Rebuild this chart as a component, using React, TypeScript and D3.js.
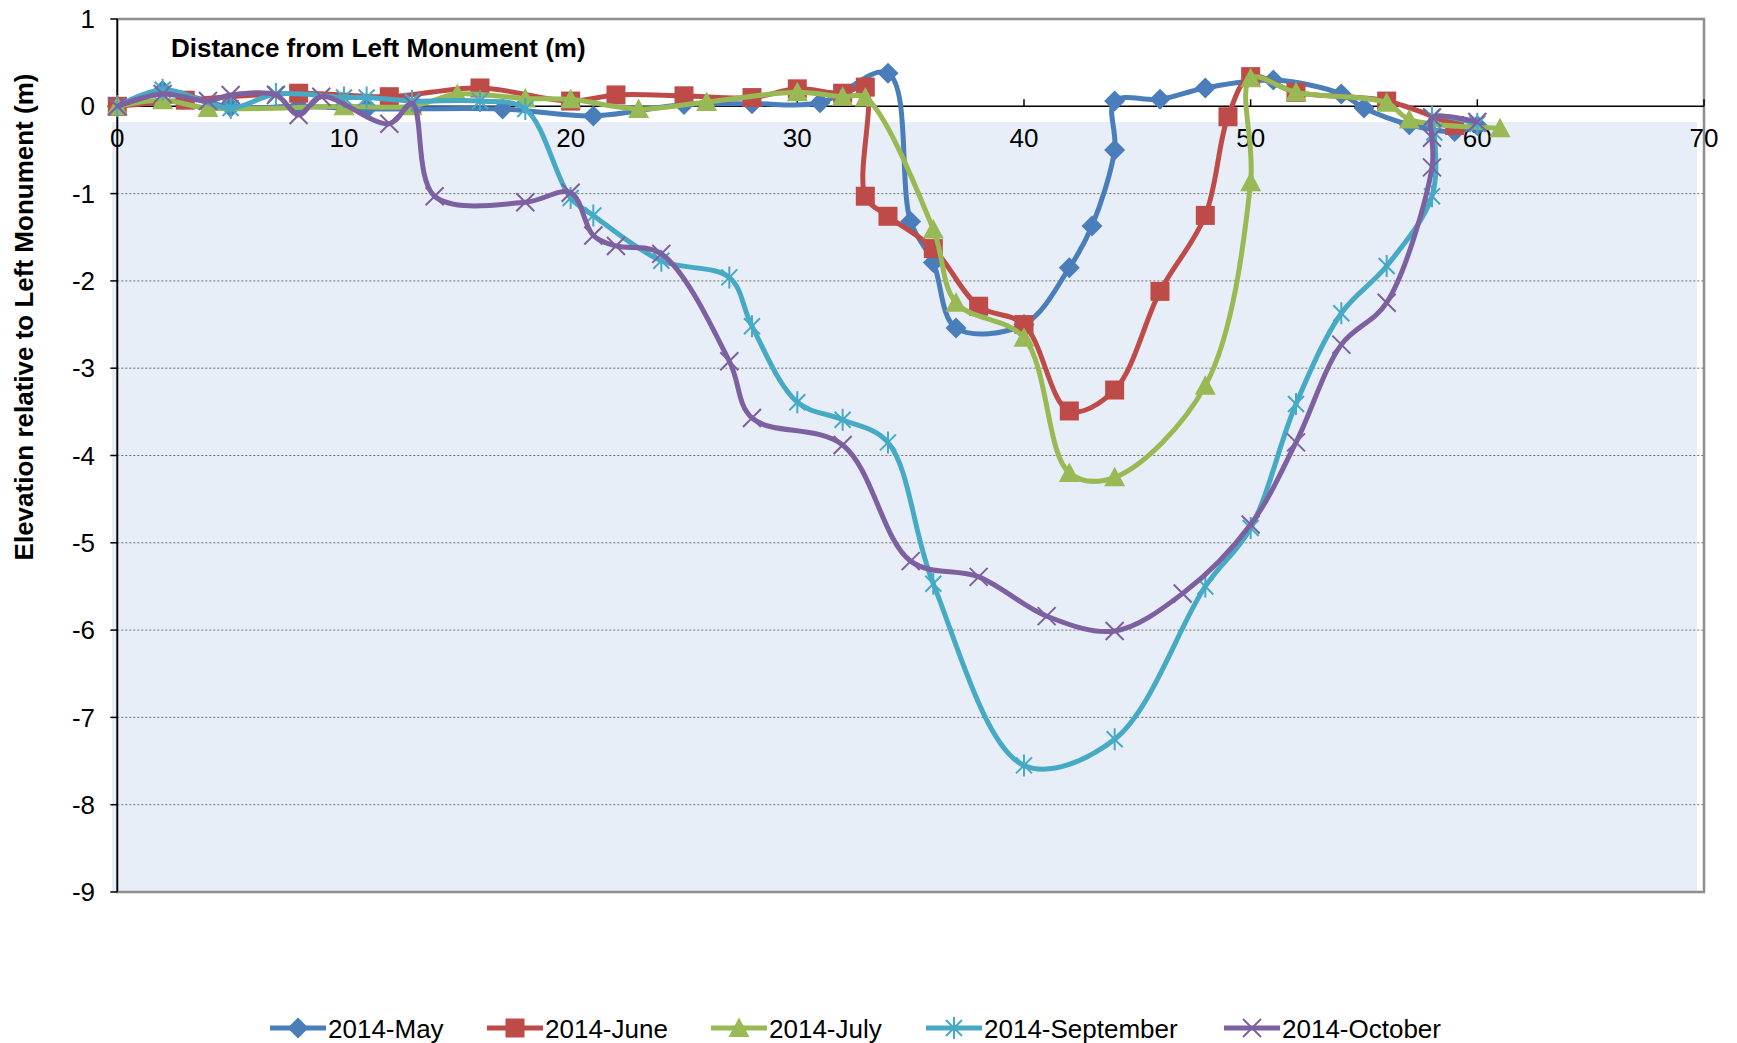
import React from "react";
import * as d3 from "d3";

// survey points: [distance from left monument (m), elevation (m)]
const mayData = [
  [0, 0], [2, 0.18], [5, -0.01], [8, 0.0], [11, -0.03], [17, -0.03], [21, -0.11],
  [25, 0.02], [28, 0.03], [31, 0.04], [34, 0.38], [35, -1.32], [36, -1.79], [37, -2.54],
  [40, -2.5], [42, -1.85], [43, -1.37], [44, -0.5], [44, 0.06], [46, 0.08], [48, 0.21],
  [51, 0.3], [54, 0.14], [55, -0.02], [57, -0.21], [59, -0.29], [60, -0.22],
];
const juneData = [
  [0, 0], [3, 0.07], [8, 0.15], [12, 0.11], [16, 0.21], [20, 0.06], [22, 0.13], [25, 0.12],
  [28, 0.1], [30, 0.2], [32, 0.15], [33, 0.22], [33, -1.03], [34, -1.26], [36, -1.63],
  [38, -2.29], [40, -2.5], [42, -3.49], [44, -3.25], [46, -2.12], [48, -1.25], [49, -0.12],
  [50, 0.34], [52, 0.16], [56, 0.06], [59, -0.22],
];
const julyData = [
  [0, 0], [2, 0.07], [4, -0.02], [10, 0.0], [13, 0.0], [15, 0.14], [18, 0.09], [20, 0.08],
  [23, -0.03], [26, 0.05], [30, 0.16], [32, 0.11], [33, 0.1], [36, -1.41], [37, -2.25],
  [40, -2.65], [42, -4.2], [44, -4.25], [48, -3.2], [50, -0.87], [50, 0.32], [52, 0.16],
  [56, 0.04], [57, -0.15], [61, -0.25],
];
const septemberData = [
  [0, 0], [2, 0.19], [5, -0.02], [7, 0.14], [10, 0.1], [11, 0.1], [13, 0.06], [16, 0.06],
  [18, -0.03], [20, -1.05], [21, -1.25], [24, -1.77], [27, -1.96], [28, -2.52], [30, -3.39],
  [32, -3.59], [34, -3.85], [36, -5.47], [40, -7.55], [44, -7.25], [48, -5.5], [50, -4.83],
  [52, -3.41], [54, -2.37], [56, -1.83], [58, -1.03], [58.1, -0.3], [58, -0.12], [60, -0.2],
];
const octoberData = [
  [0, 0], [2, 0.14], [4, 0.06], [5, 0.13], [7, 0.13], [8, -0.1], [9, 0.11], [12, -0.2],
  [13, 0.03], [14, -1.03], [18, -1.1], [20, -0.99], [21, -1.48], [22, -1.6], [24, -1.69],
  [27, -2.92], [28, -3.57], [32, -3.88], [35, -5.21], [38, -5.39], [41, -5.84], [44, -6.01],
  [47, -5.58], [50, -4.79], [52, -3.85], [54, -2.73], [56, -2.25], [58, -0.7], [58, -0.36],
  [58, -0.13], [60, -0.18],
];

const seriesNames = ["2014-May", "2014-June", "2014-July", "2014-September", "2014-October"];
const xTicks = [0, 10, 20, 30, 40, 50, 60, 70];
const yTicks = [1, 0, -1, -2, -3, -4, -5, -6, -7, -8, -9];

const series = [
  { name: seriesNames[0], data: mayData, color: "#4a7ebb", marker: "diamond" },
  { name: seriesNames[1], data: juneData, color: "#be4b48", marker: "square" },
  { name: seriesNames[2], data: julyData, color: "#98b954", marker: "triangle" },
  { name: seriesNames[3], data: septemberData, color: "#46aac5", marker: "star" },
  { name: seriesNames[4], data: octoberData, color: "#7d60a0", marker: "x" },
];

const W = 1737;
const H = 1043;
const left = 117.3;
const right = 1704;
const top = 19;
const bottom = 892;
const font = "'Liberation Sans', Arial, sans-serif";

const Marker = ({ type, color }) => {
  if (type === "diamond") return <path d="M0,-10.5L10.5,0L0,10.5L-10.5,0Z" fill={color} />;
  if (type === "square") return <rect x={-9.5} y={-9.5} width={19} height={19} fill={color} />;
  if (type === "triangle") return <path d="M0,-10.5L10.5,9L-10.5,9Z" fill={color} />;
  if (type === "star")
    return <path d="M-8,-8L8,8M-8,8L8,-8M0,-11L0,11" stroke={color} strokeWidth={2} fill="none" />;
  return <path d="M-9,-9L9,9M-9,9L9,-9" stroke={color} strokeWidth={2} fill="none" />;
};

export default function App() {
  const x = d3.scaleLinear().domain([0, 70]).range([left, right]);
  const y = d3.scaleLinear().domain([-9, 1]).range([bottom, top]);
  const line = d3
    .line()
    .x(d => x(d[0]))
    .y(d => y(d[1]))
    .curve(d3.curveCatmullRom.alpha(0.5));

  const legendX = [270, 487, 711, 926, 1224];

  return (
    <svg
      width={W}
      height={H}
      style={{ position: "absolute", left: 0, top: 0, background: "#fff" }}
      fontFamily={font}
    >
      {/* plot fill (offset like the original) */}
      <rect x={112} y={122} width={1697 - 112} height={bottom - 122} fill="#e8eef7" />

      {/* gridlines */}
      {yTicks
        .filter(t => t < 0 && t > -9)
        .map(t => (
          <line
            key={t}
            x1={left}
            x2={right}
            y1={y(t)}
            y2={y(t)}
            stroke="#6e6e6e"
            strokeWidth={1}
            strokeDasharray="2,2"
          />
        ))}

      {/* border */}
      <rect
        x={left}
        y={top}
        width={right - left}
        height={bottom - top}
        fill="none"
        stroke="#8e8e8e"
        strokeWidth={2.5}
      />

      {/* y axis */}
      <line x1={left} x2={left} y1={top} y2={bottom} stroke="#000" strokeWidth={1.5} />
      {yTicks.map(t => (
        <g key={t}>
          <line x1={left - 7} x2={left} y1={y(t)} y2={y(t)} stroke="#000" strokeWidth={1.5} />
          <text x={95} y={y(t)} dy="0.35em" textAnchor="end" fontSize={26}>
            {t}
          </text>
        </g>
      ))}

      {/* x axis at y=0 */}
      <line x1={left} x2={right} y1={y(0)} y2={y(0)} stroke="#000" strokeWidth={1.5} />
      {xTicks.map(t => (
        <g key={t}>
          <line x1={x(t)} x2={x(t)} y1={y(0)} y2={y(0) - 7} stroke="#000" strokeWidth={1.5} />
          <text x={x(t)} y={147} textAnchor="middle" fontSize={26}>
            {t}
          </text>
        </g>
      ))}

      {/* series */}
      {series.map(s => (
        <g key={s.name}>
          <path d={line(s.data)} fill="none" stroke={s.color} strokeWidth={5} strokeLinejoin="round" />
          {s.data.map((d, i) => (
            <g key={i} transform={`translate(${x(d[0])},${y(d[1])})`}>
              <Marker type={s.marker} color={s.color} />
            </g>
          ))}
        </g>
      ))}

      {/* titles */}
      <text x={171} y={57} fontSize={26} fontWeight="bold">
        Distance from Left Monument (m)
      </text>
      <text
        transform="translate(33,317) rotate(-90)"
        textAnchor="middle"
        fontSize={26}
        fontWeight="bold"
      >
        Elevation relative to Left Monument (m)
      </text>

      {/* legend */}
      {series.map((s, i) => (
        <g key={s.name} transform={`translate(${legendX[i]},1028)`}>
          <line x1={0} x2={56} y1={0} y2={0} stroke={s.color} strokeWidth={5} />
          <g transform="translate(28,0)">
            <Marker type={s.marker} color={s.color} />
          </g>
          <text x={58} y={10} fontSize={26}>
            {s.name}
          </text>
        </g>
      ))}
    </svg>
  );
}
